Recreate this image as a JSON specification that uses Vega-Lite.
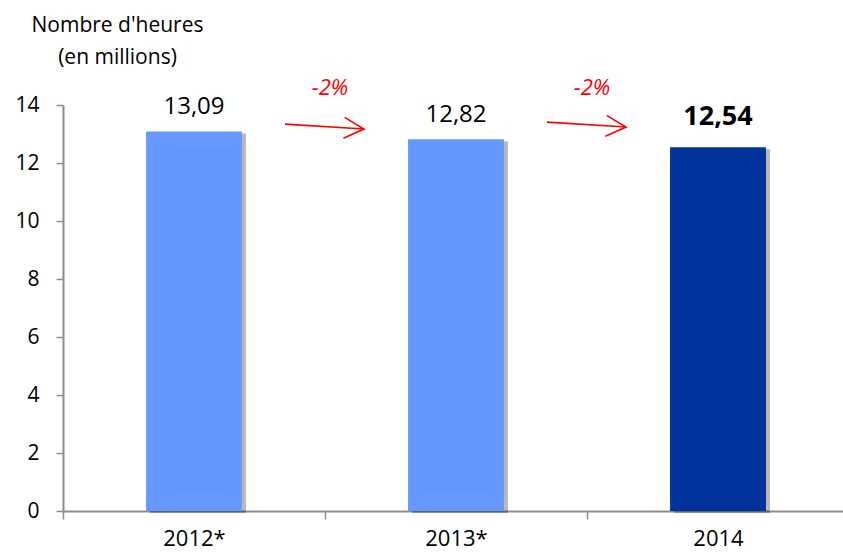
{
  "$schema": "https://vega.github.io/schema/vega-lite/v6.json",
  "autosize": "none",
  "width": 786,
  "height": 406,
  "padding": {"left": 63, "top": 105, "right": 0, "bottom": 44},
  "background": "white",
  "config": {
    "view": {"stroke": null},
    "font": "Open Sans",
    "axisX": {
      "title": null,
      "labelAngle": 0,
      "tickBand": "extent",
      "domainColor": "#8c8c8c",
      "domainWidth": 2,
      "tickColor": "#8c8c8c",
      "tickWidth": 1.5,
      "tickSize": 8,
      "labelPadding": 9,
      "labelFontSize": 22,
      "labelColor": "#000000",
      "labelFont": "Open Sans"
    }
  },
  "datasets": {
    "bars": [
      {"year": "2012*", "value": 13.09, "label": "13,09"},
      {"year": "2013*", "value": 12.82, "label": "12,82"},
      {"year": "2014", "value": 12.54, "label": "12,54"}
    ],
    "arrows": [
      {"from": "2012*", "to": "2013*", "y1": 13.34, "y2": 13.17, "ty": 14.34, "pct": "-2%"},
      {"from": "2013*", "to": "2014", "y1": 13.41, "y2": 13.24, "ty": 14.34, "pct": "-2%"}
    ]
  },
  "encoding": {
    "x": {
      "field": "year",
      "type": "nominal",
      "sort": null,
      "title": null,
      "scale": {"domain": ["2012*", "2013*", "2014"], "paddingInner": 0, "paddingOuter": 0}
    }
  },
  "layer": [
    {
      "data": {"name": "bars"},
      "mark": {"type": "bar", "color": "#000000", "opacity": 0.28, "xOffset": 4, "yOffset": 2, "width": {"band": 0.366}},
      "encoding": {
        "y": {
          "field": "value",
          "type": "quantitative",
          "scale": {"domain": [0, 14], "nice": false},
          "axis": {
            "values": [0, 2, 4, 6, 8, 10, 12, 14],
            "grid": false,
            "title": ["Nombre d'heures", "(en millions)"],
            "titleAngle": 0,
            "titleAlign": "center",
            "titleBaseline": "alphabetic",
            "titleX": 54,
            "titleY": -74,
            "titleFontSize": 21,
            "titleFontWeight": "normal",
            "titleLineHeight": 32,
            "titleColor": "#000000",
            "titleFont": "Open Sans",
            "domainColor": "#8c8c8c",
            "domainWidth": 2,
            "tickColor": "#8c8c8c",
            "tickWidth": 1.5,
            "tickSize": 7,
            "labelPadding": 17,
            "labelFontSize": 21,
            "labelColor": "#000000",
            "labelFont": "Open Sans"
          }
        }
      }
    },
    {
      "data": {"name": "bars"},
      "mark": {"type": "bar", "width": {"band": 0.366}},
      "encoding": {
        "y": {"field": "value", "type": "quantitative"},
        "color": {
          "field": "year",
          "type": "nominal",
          "scale": {"domain": ["2012*", "2013*", "2014"], "range": ["#6699ff", "#6699ff", "#003399"]},
          "legend": null
        }
      }
    },
    {
      "data": {"name": "bars"},
      "transform": [{"filter": "datum.year !== '2014'"}],
      "mark": {"type": "text", "baseline": "alphabetic", "dy": -17, "fontSize": 24, "color": "#000000", "font": "Open Sans"},
      "encoding": {
        "y": {"field": "value", "type": "quantitative"},
        "text": {"field": "label"}
      }
    },
    {
      "data": {"name": "bars"},
      "transform": [{"filter": "datum.year === '2014'"}],
      "mark": {"type": "text", "baseline": "alphabetic", "dy": -22, "fontSize": 27, "fontWeight": "bold", "color": "#000000", "font": "Open Sans"},
      "encoding": {
        "y": {"field": "value", "type": "quantitative"},
        "text": {"field": "label"}
      }
    },
    {
      "data": {"name": "arrows"},
      "mark": {"type": "rule", "color": "#ff0000", "strokeWidth": 1.6, "xOffset": 91, "x2Offset": -92},
      "encoding": {
        "x": {"field": "from", "type": "nominal", "title": null},
        "x2": {"field": "to"},
        "y": {"field": "y1", "type": "quantitative"},
        "y2": {"field": "y2"}
      }
    },
    {
      "data": {"name": "arrows"},
      "mark": {"type": "point", "shape": "M-1,-0.52L0,0L-1,0.52", "size": 1600, "filled": false, "color": "#ff0000", "strokeWidth": 1.6, "opacity": 1, "angle": 3.6, "xOffset": -92},
      "encoding": {
        "x": {"field": "to", "type": "nominal", "title": null},
        "y": {"field": "y2", "type": "quantitative"}
      }
    },
    {
      "data": {"name": "arrows"},
      "mark": {"type": "text", "color": "#ff0000", "fontStyle": "italic", "fontSize": 22, "baseline": "alphabetic", "xOffset": -126, "font": "Open Sans"},
      "encoding": {
        "x": {"field": "to", "type": "nominal", "title": null},
        "y": {"field": "ty", "type": "quantitative"},
        "text": {"field": "pct"}
      }
    }
  ]
}
